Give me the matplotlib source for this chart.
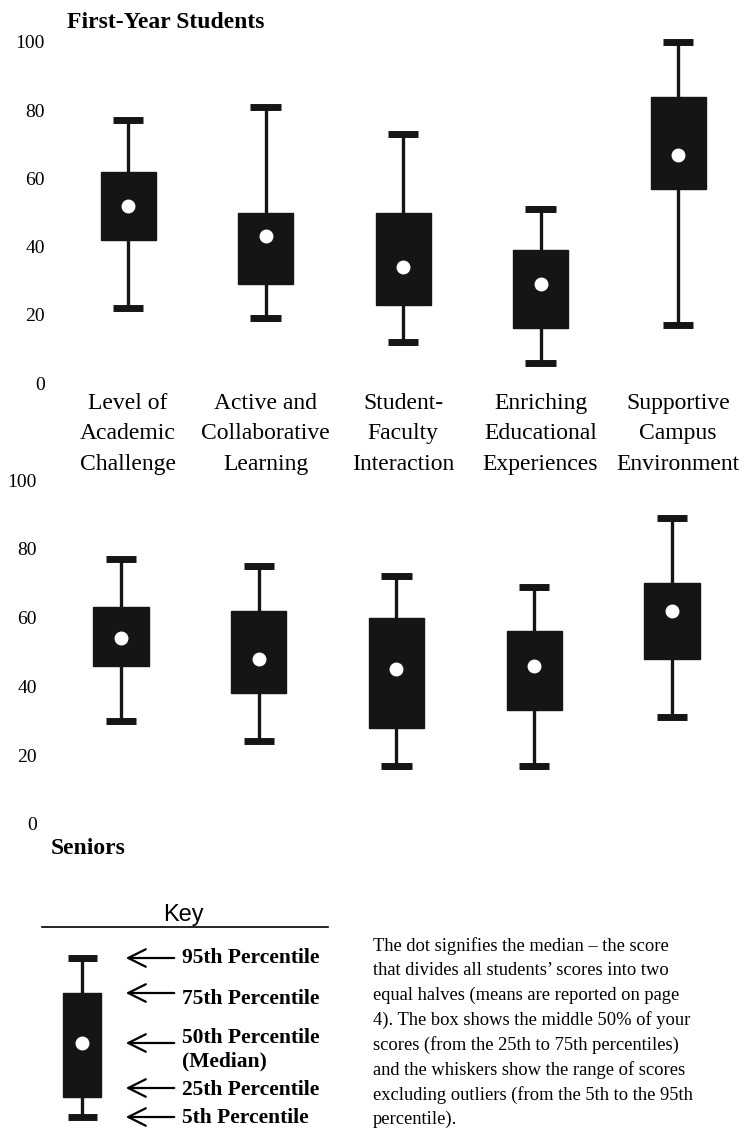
import matplotlib
matplotlib.use("Agg")
import matplotlib.pyplot as plt

plt.rcParams['font.family'] = ['Liberation Serif', 'DejaVu Serif']

# Benchmark names (x categories)
categories = ["Level of\nAcademic\nChallenge",
              "Active and\nCollaborative\nLearning",
              "Student-\nFaculty\nInteraction",
              "Enriching\nEducational\nExperiences",
              "Supportive\nCampus\nEnvironment"]

# First-year students: 5th, 25th, 50th, 75th, 95th percentiles
fy_p5 = [22, 19, 12, 6, 17]
fy_p25 = [42, 29, 23, 16, 57]
fy_p50 = [52, 43, 34, 29, 67]
fy_p75 = [62, 50, 50, 39, 84]
fy_p95 = [77, 81, 73, 51, 100]

# Seniors
sr_p5 = [30, 24, 17, 17, 31]
sr_p25 = [46, 38, 28, 33, 48]
sr_p50 = [54, 48, 45, 46, 62]
sr_p75 = [63, 62, 60, 56, 70]
sr_p95 = [77, 75, 72, 69, 89]

y_ticks = [0, 20, 40, 60, 80, 100]

key_labels = ["95th Percentile", "75th Percentile", "50th Percentile\n(Median)",
              "25th Percentile", "5th Percentile"]

note_lines = ["The dot signifies the median \u2013 the score",
              "that divides all students\u2019 scores into two",
              "equal halves (means are reported on page",
              "4). The box shows the middle 50% of your",
              "scores (from the 25th to 75th percentiles)",
              "and the whiskers show the range of scores",
              "excluding outliers (from the 5th to the 95th",
              "percentile)."]

W, H = 752, 1136
DARK = "#151515"
fig = plt.figure(figsize=(W / 100, H / 100), dpi=100)


def draw_boxes(ax, p5, p25, p50, p75, p95):
    stats = []
    for i in range(len(p50)):
        stats.append(dict(whislo=p5[i], q1=p25[i], med=p50[i], q3=p75[i], whishi=p95[i]))
    parts = ax.bxp(stats, positions=range(len(stats)), widths=0.4, patch_artist=True,
                   showfliers=False, capwidths=0.22,
                   boxprops=dict(facecolor=DARK, edgecolor=DARK, linewidth=1),
                   whiskerprops=dict(color=DARK, linewidth=2.4),
                   capprops=dict(color=DARK, linewidth=5, solid_capstyle="butt"),
                   medianprops=dict(linewidth=0))
    for group in parts.values():
        for art in group:
            art.set_clip_on(False)
    ax.plot(range(len(p50)), p50, "o", color="white", markersize=9,
            linestyle="none", clip_on=False, zorder=5)
    ax.set_ylim(0, 100)
    ax.set_yticks(y_ticks)
    ax.tick_params(axis="y", length=0, pad=7.2, labelsize=14)
    for s in ax.spines.values():
        s.set_visible(False)


# First-year panel
ax1 = fig.add_axes([55 / W, 1 - 383 / H, 690 / W, 341 / H])
draw_boxes(ax1, fy_p5, fy_p25, fy_p50, fy_p75, fy_p95)
ax1.set_xlim(-0.531, 4.487)
ax1.set_xticks(range(len(categories)))
ax1.set_xticklabels(categories, fontsize=17, linespacing=1.6)
ax1.tick_params(axis="x", length=0, pad=7)

# Senior panel
ax2 = fig.add_axes([47 / W, 1 - 824 / H, 698 / W, 344 / H])
draw_boxes(ax2, sr_p5, sr_p25, sr_p50, sr_p75, sr_p95)
ax2.set_xlim(-0.537, 4.53)
ax2.set_xticks([])

fig.text(67 / W, 1 - 22 / H, "First-Year Students", fontsize=17, fontweight="bold", va="center")
fig.text(51 / W, 1 - 848 / H, "Seniors", fontsize=17, fontweight="bold", va="center")

# Key drawn in pixel coordinates
kx = fig.add_axes([0, 0, 1, 1])
kx.set_xlim(0, W)
kx.set_ylim(H, 0)
kx.axis("off")
kx.text(183, 915, "Key", family=["Liberation Sans", "DejaVu Sans"], fontsize=17,
        ha="center", va="center")
kx.plot([42, 328], [927, 927], color="black", lw=1.2)

cx = 82
kx.plot([cx, cx], [958, 1117], color=DARK, lw=2.4, zorder=1)
kx.add_patch(plt.Rectangle((63, 993), 38, 104, facecolor=DARK, edgecolor=DARK, zorder=2))
kx.plot([68, 97], [958, 958], color=DARK, lw=5, solid_capstyle="butt")
kx.plot([68, 97], [1117, 1117], color=DARK, lw=5, solid_capstyle="butt")
kx.plot(cx, 1043, "o", color="white", markersize=9, zorder=3)

arrow_y = [958, 993, 1043, 1088, 1117]
label_y = [958, 999, 1050, 1090, 1118]
for ay, ly, lab in zip(arrow_y, label_y, key_labels):
    kx.annotate("", xy=(123, ay), xytext=(177, ay),
                arrowprops=dict(arrowstyle="->,head_length=0.7,head_width=0.35",
                                lw=1.6, color="black", mutation_scale=18))
    kx.text(182, ly, lab, fontsize=15.5, fontweight="bold", va="center", linespacing=1.25)

for i, line in enumerate(note_lines):
    kx.text(373, 946 + i * 24.8, line, fontsize=13.3, va="center")

fig.savefig("out.png", dpi=100)
